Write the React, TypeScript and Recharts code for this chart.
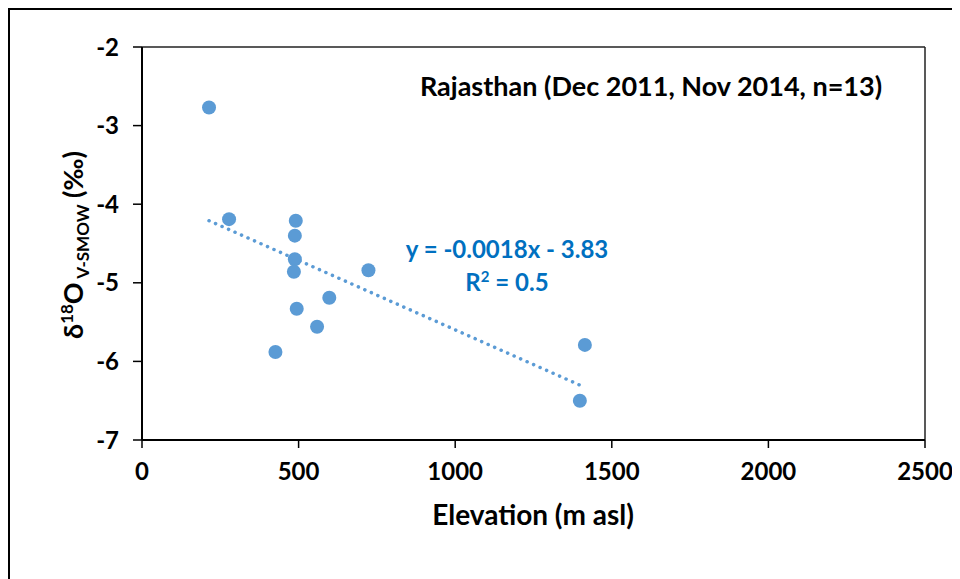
import React from 'react'
import {
  ScatterChart,
  Scatter,
  XAxis,
  YAxis,
  ReferenceLine,
  Customized,
} from 'recharts'

// elevation (m asl) vs d18O
const elevation = [214, 278, 491, 488, 488, 485, 723, 598, 494, 559, 426, 1414, 1398]
const d18O = [-2.77, -4.19, -4.21, -4.4, -4.7, -4.86, -4.84, -5.19, -5.33, -5.56, -5.88, -5.79, -6.5]

// dotted linear trend, endpoints as drawn
const trendX = [214, 1414]
const trendY = [-4.21, -6.33]

const xTicks = [0, 500, 1000, 1500, 2000, 2500]
const yTicks = [-7, -6, -5, -4, -3, -2]

const points = elevation.map((x, i) => ({ x, y: d18O[i] }))
const trend = trendX.map((x, i) => ({ x, y: trendY[i] }))

const FONT = 'Lato, "Open Sans", sans-serif'
const BLUE = '#5B9BD5'

const Dot = (props: any) => <circle cx={props.cx} cy={props.cy} r={7} fill={BLUE} />

const Labels = () => (
  <g fontFamily={FONT} fontWeight={700}>
    <text x={641} y={86} textAnchor="middle" fontSize={27} fill="#000">
      Rajasthan (Dec 2011, Nov 2014, n=13)
    </text>
    <text x={497} y={248} textAnchor="middle" fontSize={24} fill="#0070C0">
      y = -0.0018x - 3.83
    </text>
    <text x={497} y={281} textAnchor="middle" fontSize={24} fill="#0070C0">
      R<tspan dy={-9} fontSize={15}>2</tspan>
      <tspan dy={9}> = 0.5</tspan>
    </text>
    <text x={523} y={515} textAnchor="middle" fontSize={28} fill="#000">
      Elevation (m asl)
    </text>
    <text
      x={73}
      y={235}
      textAnchor="middle"
      fontSize={27}
      fill="#000"
      transform="rotate(-90 73 235)"
    >
      δ<tspan dy={-10} fontSize={17}>18</tspan>
      <tspan dy={10}>O</tspan>
      <tspan dy={6} fontSize={17}> V-SMOW</tspan>
      <tspan dy={-6}> (‰)</tspan>
    </text>
  </g>
)

export default function App() {
  return (
    <div
      style={{
        width: 950,
        height: 569,
        borderLeft: '2px solid #000',
        borderTop: '2px solid #000',
        background: '#fff',
      }}
    >
      <ScatterChart
        width={950}
        height={569}
        margin={{ top: 37, right: 35, left: 0, bottom: 0 }}
      >
        <XAxis
          type="number"
          dataKey="x"
          domain={[0, 2500]}
          ticks={xTicks}
          height={139}
          tickSize={8}
          tickMargin={15}
          axisLine={{ stroke: '#000', strokeWidth: 2 }}
          tickLine={{ stroke: '#000', strokeWidth: 1.5 }}
          tick={{ fontSize: 24, fontWeight: 700, fill: '#000', fontFamily: FONT }}
        />
        <YAxis
          type="number"
          dataKey="y"
          domain={[-7, -2]}
          ticks={yTicks}
          width={132}
          tickSize={9}
          tickMargin={14}
          axisLine={{ stroke: '#000', strokeWidth: 2 }}
          tickLine={{ stroke: '#000', strokeWidth: 1.5 }}
          tick={{ fontSize: 24, fontWeight: 700, fill: '#000', fontFamily: FONT }}
        />
        <ReferenceLine y={-2} stroke="#222" strokeWidth={1.5} />
        <ReferenceLine x={2500} stroke="#222" strokeWidth={1.5} />
        <Scatter
          data={trend}
          shape={() => null}
          line={{
            stroke: BLUE,
            strokeWidth: 3.5,
            strokeDasharray: '0.1 7',
            strokeLinecap: 'round',
          }}
          isAnimationActive={false}
        />
        <Scatter data={points} shape={<Dot />} isAnimationActive={false} />
        <Customized component={Labels} />
      </ScatterChart>
    </div>
  )
}
